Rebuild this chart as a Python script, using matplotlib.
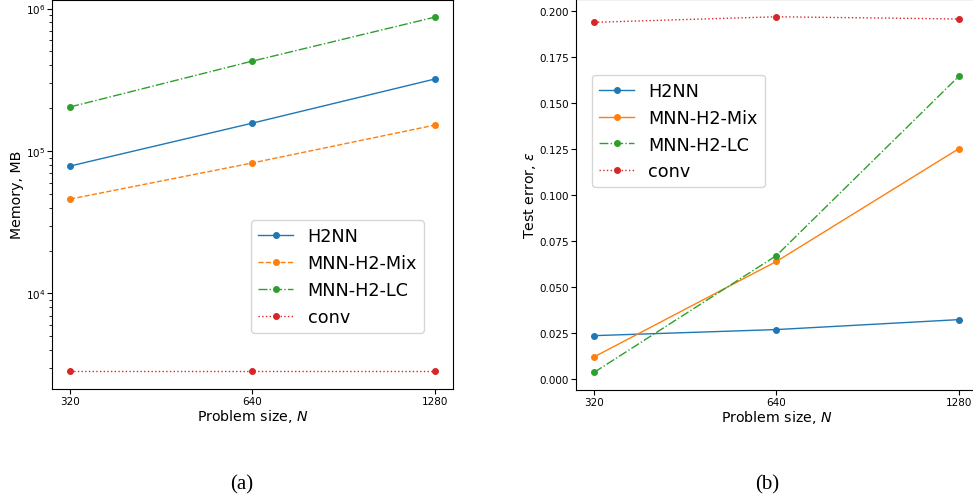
"""Memory and test error vs problem size for H2NN / MNN-H2 variants."""
import matplotlib
matplotlib.use("Agg")
import matplotlib.pyplot as plt
from matplotlib.ticker import NullLocator

sizes = [320, 640, 1280]
size_labels = ["320", "640", "1280"]

# memory, MB (log scale)
mem_h2nn = [78500, 157000, 320000]
mem_mix = [46000, 82500, 152000]
mem_lc = [204000, 428000, 870000]
mem_conv = [2840, 2840, 2840]

# test error
err_h2nn = [0.0235, 0.0268, 0.0322]
err_mix = [0.0120, 0.0638, 0.1250]
err_lc = [0.0036, 0.0670, 0.1643]
err_conv = [0.1937, 0.1967, 0.1955]

names = ["H2NN", "MNN-H2-Mix", "MNN-H2-LC", "conv"]
colors = ["#1f77b4", "#ff7f0e", "#2ca02c", "#d62728"]

TICK = 7.5
LABEL = 10.2
LEG = 12.7

fig = plt.figure(figsize=(9.73, 5.02), dpi=100)
ax1 = fig.add_axes([0.0534, 0.223, 0.412, 0.776])
ax2 = fig.add_axes([0.592, 0.221, 0.412, 0.779])

kw = dict(marker="o", markersize=4, linewidth=1)

# (a) memory
ax1.plot(sizes, mem_h2nn, "-", color=colors[0], label=names[0], **kw)
ax1.plot(sizes, mem_mix, "--", color=colors[1], label=names[1], **kw)
ax1.plot(sizes, mem_lc, "-.", color=colors[2], label=names[2], **kw)
ax1.plot(sizes, mem_conv, ":", color=colors[3], label=names[3], **kw)
ax1.set_yscale("log")
ax1.set_ylabel("Memory, MB", fontsize=LABEL, labelpad=1)
ax1.legend(loc="lower right", bbox_to_anchor=(0.928, 0.144),
           borderaxespad=0, fontsize=LEG)

# (b) test error
ax2.plot(sizes, err_h2nn, "-", color=colors[0], label=names[0], **kw)
ax2.plot(sizes, err_mix, "-", color=colors[1], label=names[1], **kw)
ax2.plot(sizes, err_lc, "-.", color=colors[2], label=names[2], **kw)
ax2.plot(sizes, err_conv, ":", color=colors[3], label=names[3], **kw)
ax2.set_ylabel(r"Test error, $\varepsilon$", fontsize=LABEL, labelpad=1)
ax2.legend(loc="upper left", bbox_to_anchor=(0.04, 0.806),
           borderaxespad=0, fontsize=LEG)

for ax in (ax1, ax2):
    ax.set_xscale("log", base=2)
    ax.set_xticks(sizes)
    ax.set_xticklabels(size_labels)
    ax.xaxis.set_minor_locator(NullLocator())
    ax.set_xlabel(r"Problem size, $N$", fontsize=LABEL, labelpad=0.5)
    ax.tick_params(labelsize=TICK, pad=1.5)

fig.text(0.248, 0.034, "(a)", family="Liberation Serif", fontsize=15,
         ha="center", va="center")
fig.text(0.788, 0.034, "(b)", family="Liberation Serif", fontsize=15,
         ha="center", va="center")

fig.savefig("out.png", dpi=100)
